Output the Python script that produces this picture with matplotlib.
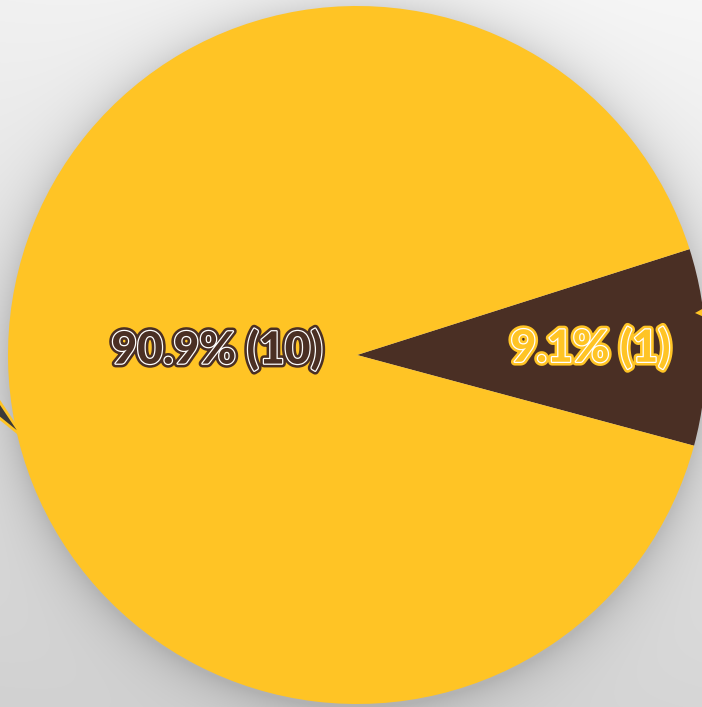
import numpy as np
import matplotlib.pyplot as plt
import matplotlib.patheffects as pe
from matplotlib.patches import Polygon

# share of responses
labels = ['Yes', 'No']
counts = [1, 10]
colors = ['#4A2F24', '#FFC425']
text_colors = ['#FFC425', '#4A2F24']
label_dist = [0.67, 0.40]

W, H = 702, 707
cx, cy, R = 357, 355, 349

fig = plt.figure(figsize=(W / 100, H / 100), dpi=100)
ax = fig.add_axes([0, 0, 1, 1])

# gray backdrop, lighter at the top, with a soft shadow round the pie
yy, xx = np.mgrid[0:H, 0:W]
bg = 0.965 - 0.125 * (yy / H) - 0.02 * (1 - xx / W)
d = np.hypot(xx - cx, yy - cy - 3) - R
shadow = np.where(d > 0, np.exp(-d / 22.0), 1.0) * 0.13
bg = np.clip(bg - shadow, 0, 1)
ax.imshow(np.dstack([bg, bg, bg]), extent=(0, W, H, 0), zorder=0, interpolation='bilinear')

total = sum(counts)
wedges, _ = ax.pie(counts, colors=colors, startangle=-180 * counts[0] / total - 1.3,
                   center=(cx, cy), radius=R, frame=True,
                   wedgeprops=dict(linewidth=0))
ax.set_xlim(0, W)
ax.set_ylim(H, 0)
ax.axis('off')

for w, n, tc, rd in zip(wedges, counts, text_colors, label_dist):
    mid = np.deg2rad((w.theta1 + w.theta2) / 2)
    tx = cx + rd * R * np.cos(mid)
    ty = cy - rd * R * np.sin(mid)
    if n == counts[0]:
        ty = cy - 5
    pct = 100 * n / total
    ax.text(tx, ty - 2, f'{pct:.1f}% ({n})', ha='center', va='center',
            fontsize=32, fontweight='black', family='Lato', color=tc, zorder=5,
            path_effects=[pe.Stroke(linewidth=5.5, foreground=tc),
                          pe.Stroke(linewidth=1.8, foreground='white'),
                          pe.Normal()])

# leader ends poking in at the edges
ax.add_patch(Polygon([(-3, 398), (-3, 416), (23, 437)], closed=True,
                     facecolor='#3C3A38', edgecolor='#FFC425', lw=2, zorder=4))
ax.add_patch(Polygon([(695, 313), (704, 308), (704, 317)], closed=True,
                     facecolor='#FFC425', edgecolor='none', zorder=4))

fig.savefig('out.png', dpi=100)
